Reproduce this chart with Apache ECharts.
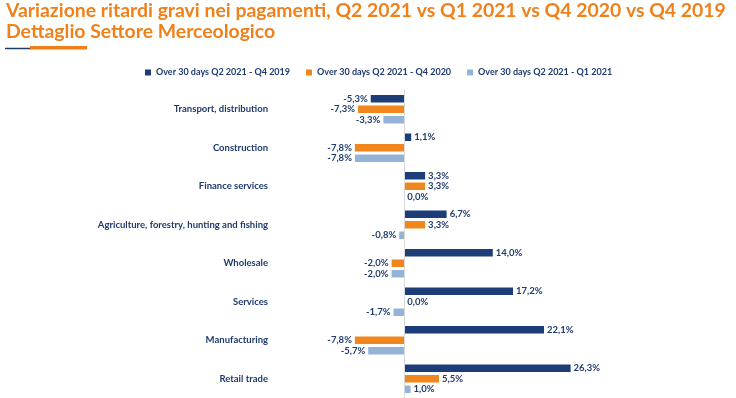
<!DOCTYPE html>
<html>
<head>
<meta charset="utf-8">
<script src="https://cdn.jsdelivr.net/npm/echarts@6/dist/echarts.min.js"></script>
<style>
  html, body { margin: 0; padding: 0; background: #fff; }
  #chart { width: 736px; height: 398px; }
</style>
</head>
<body>
<div id="chart"></div>
<script>
(function () {
    "use strict";

    var categories = [
        'Transport, distribution',
        'Construction',
        'Finance services',
        'Agriculture, forestry, hunting and fishing',
        'Wholesale',
        'Services',
        'Manufacturing',
        'Retail trade'
    ];
    var seriesNames = [
        'Over 30 days Q2 2021 - Q4 2019',
        'Over 30 days Q2 2021 - Q4 2020',
        'Over 30 days Q2 2021 - Q1 2021'
    ];
    var vsQ4_2019 = [-5.3, 1.1, 3.3, 6.7, 14.0, 17.2, 22.1, 26.3];
    var vsQ4_2020 = [-7.3, -7.8, 3.3, 3.3, -2.0, 0.0, -7.8, 5.5];
    var vsQ1_2021 = [-3.3, -7.8, 0.0, -0.8, -2.0, -1.7, -5.7, 1.0];
    var colors = ['#1c3d78', '#f0861c', '#95b3d7'];

    var navy = '#1f3a6e';
    var font = "Lato, 'Noto Sans', sans-serif";

    var chart = echarts.init(document.getElementById('chart'));

    // label a sinistra per i negativi, a destra per positivi e zero
    function toData(values) {
        return values.map(function (v) {
            return {
                value: v,
                label: { position: v < 0 ? 'left' : 'right' }
            };
        });
    }

    var series = [vsQ4_2019, vsQ4_2020, vsQ1_2021].map(function (values, i) {
        var s = {
            name: seriesNames[i],
            type: 'bar',
            data: toData(values),
            barWidth: 7.5,
            barGap: '40%',
            itemStyle: { color: colors[i] },
            label: {
                show: true,
                distance: 3,
                color: navy,
                fontFamily: font,
                fontWeight: 'bold',
                fontSize: 9.5,
                formatter: function (p) {
                    return p.value.toFixed(1).replace('.', ',') + '%';
                }
            }
        };
        if (i === 0) {
            s.markLine = {
                silent: true,
                symbol: 'none',
                label: { show: false },
                lineStyle: { color: '#d9d9d9', width: 1, type: 'solid' },
                data: [{ xAxis: 0 }]
            };
        }
        return s;
    });

    var option = {
        animation: false,
        title: {
            text: 'Variazione ritardi gravi nei pagamenti, Q2 2021 vs Q1 2021 vs Q4 2020 vs Q4 2019\nDettaglio Settore Merceologico',
            left: 1,
            top: -5,
            textStyle: {
                color: '#f0801a',
                fontFamily: font,
                fontWeight: 'bold',
                fontSize: 19.4,
                lineHeight: 21
            }
        },
        legend: {
            top: 63,
            left: 140,
            icon: 'rect',
            itemWidth: 6,
            itemHeight: 6,
            itemGap: 16,
            textStyle: {
                color: navy,
                fontFamily: font,
                fontWeight: 'bold',
                fontSize: 9
            },
            data: seriesNames
        },
        graphic: [
            {
                type: 'line',
                shape: { x1: 5, y1: 48.5, x2: 31, y2: 48.5 },
                style: { stroke: '#1f3a6e', lineWidth: 1.5 }
            },
            {
                type: 'rect',
                shape: { x: 30, y: 46, width: 57, height: 3.5 },
                style: { fill: '#f0801a' }
            }
        ],
        grid: {
            left: 341,
            right: 142,
            top: 90,
            bottom: 0
        },
        xAxis: {
            type: 'value',
            min: -10,
            max: 30,
            show: false
        },
        yAxis: {
            type: 'category',
            inverse: true,
            data: categories,
            axisLine: { show: false },
            axisTick: { show: false },
            axisLabel: {
                margin: 73,
                color: navy,
                fontFamily: font,
                fontWeight: 'bold',
                fontSize: 9.5
            }
        },
        series: series
    };

    chart.setOption(option);
})();
</script>
</body>
</html>
